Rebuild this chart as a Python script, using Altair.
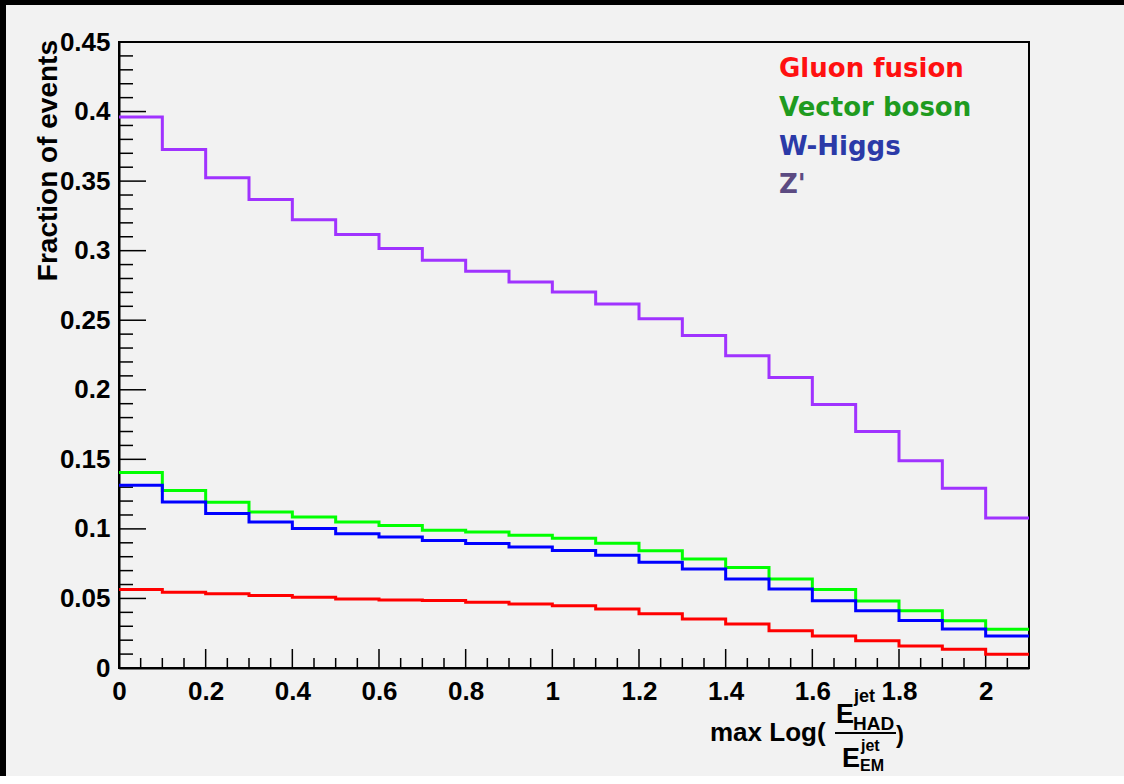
import altair as alt
import numpy as np
import pandas as pd

# Histogram bin edges: 21 bins of width 0.1 from 0 to 2.1
bin_edges = [round(0.1 * i, 1) for i in range(22)]

# Fraction of events per bin, one list per production channel
gluon_fusion = [0.0565, 0.0544, 0.0533, 0.0522, 0.0508, 0.0496, 0.0488, 0.0486, 0.0472, 0.0460, 0.0448,
                0.0424, 0.0390, 0.0352, 0.0316, 0.0268, 0.0230, 0.0196, 0.0158, 0.0135, 0.0098]
vector_boson = [0.1406, 0.1276, 0.1192, 0.1121, 0.1086, 0.1049, 0.1025, 0.0990, 0.0977, 0.0955, 0.0932,
                0.0896, 0.0843, 0.0783, 0.0723, 0.0639, 0.0565, 0.0481, 0.0411, 0.0340, 0.0279]
w_higgs = [0.1313, 0.1194, 0.1110, 0.1049, 0.1002, 0.0965, 0.0941, 0.0917, 0.0895, 0.0869, 0.0845,
           0.0810, 0.0761, 0.0712, 0.0639, 0.0568, 0.0484, 0.0412, 0.0341, 0.0280, 0.0230]
z_prime = [0.3960, 0.3728, 0.3525, 0.3367, 0.3223, 0.3116, 0.3015, 0.2931, 0.2852, 0.2775, 0.2703,
           0.2617, 0.2510, 0.2390, 0.2244, 0.2088, 0.1894, 0.1700, 0.1490, 0.1293, 0.1078]

series_names = ["Gluon fusion", "Vector boson", "W-Higgs", "Z'"]
series_values = [gluon_fusion, vector_boson, w_higgs, z_prime]
line_colors = ["#ff0000", "#00ff00", "#0000ff", "#a033ff"]
legend_colors = ["#ff1010", "#1f9b1f", "#2b3aa8", "#5c4b82"]

x_tick_labels = [0, 0.2, 0.4, 0.6, 0.8, 1, 1.2, 1.4, 1.6, 1.8, 2]
y_tick_labels = [0, 0.05, 0.1, 0.15, 0.2, 0.25, 0.3, 0.35, 0.4, 0.45]
x_minor = [float(v) for v in np.round(np.arange(0.05, 2.1, 0.05), 2)
           if all(abs(v - m) > 1e-6 for m in x_tick_labels)]
y_minor = [float(v) for v in np.round(np.arange(0.01, 0.45, 0.01), 2)
           if all(abs(v - m) > 1e-6 for m in y_tick_labels)]

# Long table for the step lines; the last bin's level is repeated at the upper edge
rows = []
for name, vals in zip(series_names, series_values):
    for edge, v in zip(bin_edges, vals + [vals[-1]]):
        rows.append({"series": name, "edge": edge, "value": v})
hist = pd.DataFrame(rows)

W, H = 910, 626
LEFT, TOP = 119, 42
TOTAL_W, TOTAL_H = 1124, 776
FONT = "Liberation Sans"

xscale = alt.Scale(domain=[0, 2.1], nice=False, zero=False)
yscale = alt.Scale(domain=[0, 0.45], nice=False, zero=False)

axis_style = dict(ticks=False, grid=False, title=None, labelFont=FONT, labelFontWeight="bold",
                  labelFontSize=26, labelColor="black", domainColor="black", domainWidth=2,
                  labelFlush=False, labelOverlap=False, format="~g")
x_axis = alt.Axis(values=x_tick_labels, labelPadding=10, **axis_style)
y_axis = alt.Axis(values=y_tick_labels, labelPadding=9, **axis_style)

lines = alt.Chart(hist).mark_line(interpolate="step-after", strokeWidth=3, clip=True).encode(
    x=alt.X("edge:Q", scale=xscale, axis=x_axis),
    y=alt.Y("value:Q", scale=yscale, axis=y_axis),
    color=alt.Color("series:N", scale=alt.Scale(domain=series_names, range=line_colors), legend=None),
)

# Inward-pointing tick marks
def x_ticks(values, length):
    return alt.Chart(pd.DataFrame({"t": values})).mark_rule(color="black", strokeWidth=1.5).encode(
        x=alt.X("t:Q", scale=xscale, axis=x_axis), y=alt.value(H), y2=alt.value(H - length))

def y_ticks(values, length):
    return alt.Chart(pd.DataFrame({"t": values})).mark_rule(color="black", strokeWidth=1.5).encode(
        y=alt.Y("t:Q", scale=yscale, axis=y_axis), x=alt.value(0), x2=alt.value(length))

def text(txt, x, y, size, color="black", font=FONT, angle=0, align="left", baseline="alphabetic"):
    return alt.Chart(pd.DataFrame({"t": [txt]})).mark_text(
        font=font, fontSize=size, fontWeight="bold", color=color, angle=angle,
        align=align, baseline=baseline).encode(text="t:N", x=alt.value(x), y=alt.value(y))

# Legend: coloured names only
legend = [text(n, 660, 35 + 38.8 * i, 26, color=c, font="DejaVu Sans")
          for i, (n, c) in enumerate(zip(series_names, legend_colors))]

# Axis titles
y_title = text("Fraction of events", -62, -2, 28, angle=270, align="right")
x_title = [
    text("max Log(", 591, 699, 26),
    text("E", 717, 681, 27),
    text("jet", 735, 660, 18),
    text("HAD", 734, 688, 19),
    alt.Chart(pd.DataFrame({"t": [0]})).mark_rule(color="black", strokeWidth=2).encode(
        x=alt.value(716), x2=alt.value(777), y=alt.value(691)),
    text(")", 777, 701, 24),
    text("jet", 742, 709, 16),
    text("E", 723, 725, 27),
    text("EM", 741, 729, 16),
]

# Dark border along the top and left edges of the canvas
def band(x0, x1, y0, y1):
    return alt.Chart(pd.DataFrame({"t": [0]})).mark_rect(color="black").encode(
        x=alt.value(x0), x2=alt.value(x1), y=alt.value(y0), y2=alt.value(y1))

bands = [band(-LEFT, TOTAL_W - LEFT, -TOP, -TOP + 5), band(-LEFT, -LEFT + 6, -TOP, TOTAL_H - TOP)]

chart = alt.layer(
    x_ticks(x_tick_labels, 19), x_ticks(x_minor, 10),
    y_ticks(y_tick_labels, 27), y_ticks(y_minor, 14),
    lines, *legend, y_title, *x_title, *bands,
).properties(
    width=W, height=H,
    autosize=alt.AutoSizeParams(type="none"),
    padding={"left": LEFT, "top": TOP, "right": TOTAL_W - LEFT - W, "bottom": TOTAL_H - TOP - H},
    background="#f2f2f2",
).configure_view(stroke="black", strokeWidth=2)

chart.save("out.html", embed_options={"renderer": "svg", "actions": False})
